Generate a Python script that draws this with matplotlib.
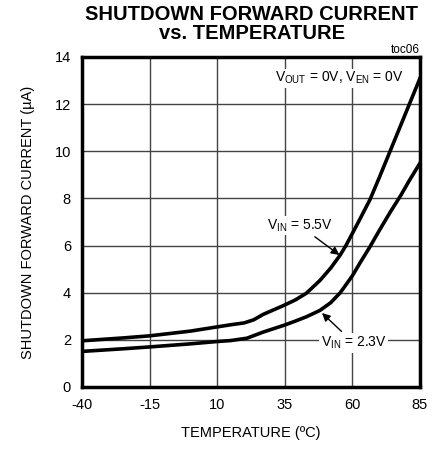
import matplotlib
matplotlib.use("Agg")
import matplotlib.pyplot as plt
from matplotlib import font_manager

names = {f.name for f in font_manager.fontManager.ttflist}
narrow = 'Liberation Sans Narrow' if 'Liberation Sans Narrow' in names else 'Liberation Sans'
plt.rcParams['font.family'] = [narrow, 'DejaVu Sans']

# Data
temp_55 = [-40, -25, -15, 0, 10, 15, 20, 23.5, 27, 31, 35, 39, 43, 48, 52, 55.5, 57.6, 62, 66.5, 70, 75, 80, 85]
curr_55 = [1.96, 2.08, 2.17, 2.37, 2.55, 2.64, 2.72, 2.85, 3.08, 3.28, 3.48, 3.7, 3.98, 4.52, 5.05, 5.6, 6.0, 6.95, 7.95, 8.9, 10.3, 11.7, 13.1]
temp_23 = [-40, -25, -15, 0, 10, 15, 21, 27, 31, 35, 39, 43, 48, 52, 55.5, 60, 63, 66.5, 70, 74, 78, 81, 85]
curr_23 = [1.51, 1.62, 1.70, 1.83, 1.93, 1.97, 2.07, 2.33, 2.48, 2.63, 2.8, 2.98, 3.25, 3.58, 4.0, 4.72, 5.3, 5.95, 6.65, 7.42, 8.15, 8.75, 9.5]
x_ticks = [-40, -15, 10, 35, 60, 85]
y_ticks = [0, 2, 4, 6, 8, 10, 12, 14]

fig = plt.figure(figsize=(4.46, 4.49), dpi=100)
ax = fig.add_axes([82/446, 62/449, 338/446, 330/449])

ax.plot(temp_55, curr_55, color='black', lw=2.6, zorder=3, solid_joinstyle='round')
ax.plot(temp_23, curr_23, color='black', lw=2.6, zorder=3, solid_joinstyle='round')

ax.set_xlim(-40, 85)
ax.set_ylim(0, 14)
ax.set_xticks(x_ticks)
ax.set_yticks(y_ticks)
ax.set_xticklabels([str(t) for t in x_ticks], fontsize=10.5)
ax.set_yticklabels([str(t) for t in y_ticks], fontsize=10.5)
ax.tick_params(length=0, pad=8)
ax.grid(True, color='#444444', lw=1.0, zorder=1)
for s in ax.spines.values():
    s.set_linewidth(2.5)
    s.set_zorder(4)

ax.set_xlabel('TEMPERATURE (ºC)', fontsize=10.5, labelpad=10)
ax.set_ylabel('SHUTDOWN FORWARD CURRENT (µA)', fontsize=10.5, labelpad=14)

fig.text(0.565, 0.988, 'SHUTDOWN FORWARD CURRENT\nvs. TEMPERATURE', ha='center', va='top',
         fontsize=14.5, fontweight='bold', family=['Liberation Sans', 'DejaVu Sans'], linespacing=0.95)
fig.text(420/446, 1 - 50/449, 'toc06', ha='right', va='center', fontsize=8.5,
         family=['Liberation Sans', 'DejaVu Sans'])

ax.text(79, 13.1, r'V$_{\mathregular{OUT}}$ = 0V, V$_{\mathregular{EN}}$ = 0V', ha='right', va='center',
        fontsize=10, zorder=5, bbox=dict(facecolor='white', edgecolor='none', pad=1))

ax.annotate(r'V$_{\mathregular{IN}}$ = 5.5V', xy=(55.2, 5.6), xytext=(40.5, 6.85),
            ha='center', va='center', fontsize=10, zorder=5,
            bbox=dict(facecolor='white', edgecolor='none', pad=1),
            arrowprops=dict(arrowstyle='-|>', color='black', lw=1, mutation_scale=12, shrinkA=2, shrinkB=0))
ax.annotate(r'V$_{\mathregular{IN}}$ = 2.3V', xy=(48, 3.22), xytext=(60.5, 1.87),
            ha='center', va='center', fontsize=10, zorder=5,
            bbox=dict(facecolor='white', edgecolor='none', pad=1),
            arrowprops=dict(arrowstyle='-|>', color='black', lw=1, mutation_scale=12, shrinkA=2, shrinkB=2))

fig.savefig('out.png', dpi=100)
